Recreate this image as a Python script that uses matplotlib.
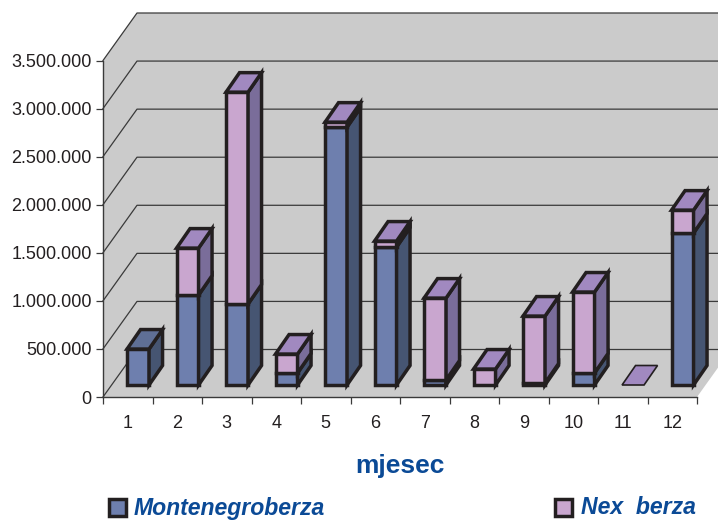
import numpy as np
import matplotlib
matplotlib.use("Agg")
import matplotlib.pyplot as plt
from matplotlib.patches import Polygon, Rectangle

months = [1, 2, 3, 4, 5, 6, 7, 8, 9, 10, 11, 12]
montenegro = [374000, 935000, 842000, 125000, 2682000, 1435000, 52000, 0, 20000, 125000, 0, 1580000]
nex = [0, 489000, 2204000, 197000, 52000, 62000, 852000, 166000, 697000, 842000, 0, 239000]
y_ticks = [0, 500000, 1000000, 1500000, 2000000, 2500000, 3000000, 3500000]
y_labels = ["0", "500.000", "1.000.000", "1.500.000", "2.000.000", "2.500.000", "3.000.000", "3.500.000"]

plt.rcParams['font.family'] = ['Liberation Sans', 'DejaVu Sans']

W, H = 718, 520
left, right, top, bottom = 103, 697, 60.5, 397
fig = plt.figure(figsize=(W / 100, H / 100), dpi=100)
ax = fig.add_axes([left / W, 1 - bottom / H, (right - left) / W, (bottom - top) / H])
ax.set_xlim(0.5, 12.5)
ax.set_ylim(0, 3500000)
ax.patch.set_alpha(0)

# pixel sizes to data units
ux = 12 / (right - left)
uy = 3500000 / (bottom - top)
wall_dx, wall_dy = 34 * ux, 47.5 * uy
far = 12.5 + 60 * ux

wall = Polygon([(0.5, 0), (0.5, 3500000), (0.5 + wall_dx, 3500000 + wall_dy), (far, 3500000 + wall_dy),
                (far, wall_dy), (12.5 + wall_dx, wall_dy), (12.5, 0)],
               closed=True, fc='#cbcbcb', ec='none', clip_on=False, zorder=0)
ax.add_patch(wall)

for v in y_ticks:
    ax.plot([0.5, 0.5 + wall_dx, far], [v, v + wall_dy, v + wall_dy], color='#3a3a3a', lw=0.9,
            clip_on=False, zorder=1)

line = '#231f20'
blue = ('#6e7fae', '#465572', '#5f6f96')
pink = ('#c9a6cf', '#7a6d9a', '#a189c0')

bar_w = 22 * ux
shift = 10.3 * ux
base = 12 * uy
dep_x, dep_y = 13.5 * ux, 19.5 * uy
edge = 2.5


def box(x, y0, y1, col, z):
    x1 = x + bar_w / 2
    ax.bar(x, y1 - y0, bar_w, bottom=y0, color=col[0], edgecolor=line, linewidth=edge,
           clip_on=False, zorder=z)
    side = [(x1, y0), (x1 + dep_x, y0 + dep_y), (x1 + dep_x, y1 + dep_y), (x1, y1)]
    ax.add_patch(Polygon(side, closed=True, fc=col[1], ec=line, lw=edge, joinstyle='miter',
                         clip_on=False, zorder=z))


for i, m in enumerate(months):
    x = m + shift
    a, b = montenegro[i], nex[i]
    z = 3 + i
    if a > 0:
        box(x, base, base + a, blue, z)
    if b > 0:
        box(x, base + a, base + a + b, pink, z)
    y1 = base + a + b
    col = pink if (b > 0 or a == 0) else blue
    x0, x1 = x - bar_w / 2, x + bar_w / 2
    lw = edge if a + b > 0 else 1.2
    cap = [(x0, y1), (x1, y1), (x1 + dep_x, y1 + dep_y), (x0 + dep_x, y1 + dep_y)]
    ax.add_patch(Polygon(cap, closed=True, fc=col[2], ec=line, lw=lw, joinstyle='miter',
                         clip_on=False, zorder=z + 0.5))

for s in ['top', 'right']:
    ax.spines[s].set_visible(False)
for s in ['left', 'bottom']:
    ax.spines[s].set_color('#3a3a3a')
    ax.spines[s].set_linewidth(1.0)
    ax.spines[s].set_zorder(2)

ax.set_yticks(y_ticks)
ax.set_yticklabels(y_labels, fontsize=13, color='#231f20')
ax.tick_params(axis='y', length=7 * 0.72, width=0.9, pad=3, color='#3a3a3a')
ax.set_xticks(np.arange(0.5, 13, 1))
ax.set_xticklabels([])
ax.set_xticks(months, minor=True)
ax.set_xticklabels([str(m) for m in months], minor=True, fontsize=13, color='#231f20')
ax.tick_params(axis='x', which='major', length=7 * 0.72, width=0.9, color='#3a3a3a')
ax.tick_params(axis='x', which='minor', length=0, pad=13)
ax.set_xlabel('mjesec', fontsize=19, fontweight='bold', color='#0b4a96', labelpad=16)

# legend
for px, col, name, tx in [(108.5, blue[0], 'Montenegroberza', 134), (555, pink[0], 'Nex  berza', 581)]:
    fig.add_artist(Rectangle((px / W, 1 - 515.5 / H), 17 / W, 17 / H, transform=fig.transFigure,
                             fc=col, ec=line, lw=edge))
    fig.text(tx / W, 1 - 514.5 / H, name, fontsize=16.6, fontweight='bold', fontstyle='italic',
             color='#0b4a96', va='baseline', ha='left')

fig.savefig('out.png', dpi=100)
